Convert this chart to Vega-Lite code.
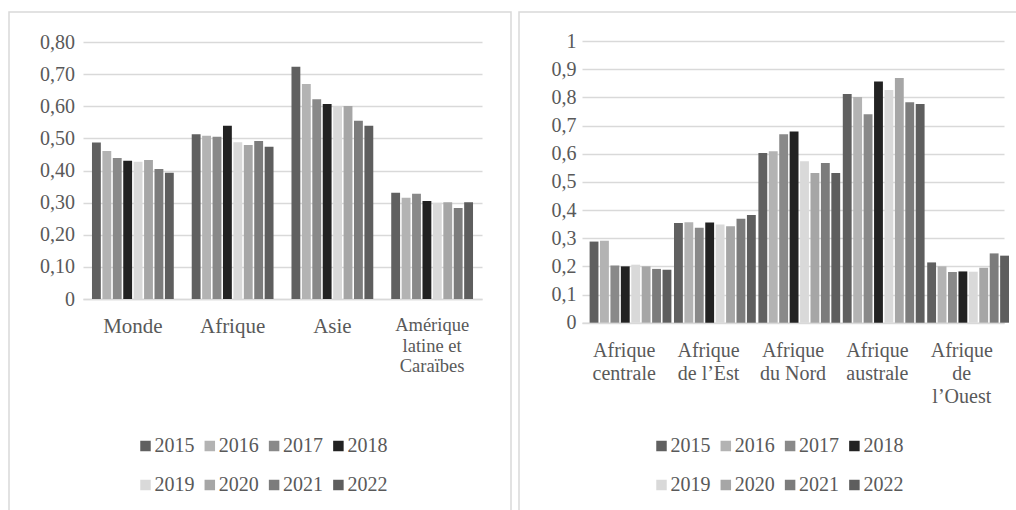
{
  "$schema": "https://vega.github.io/schema/vega-lite/v6.json",
  "padding": {"left": 8, "top": 11, "right": 0, "bottom": 0},
  "background": "white",
  "spacing": 6,
  "config": {
    "font": "'Liberation Serif', 'Times New Roman', serif",
    "view": {"stroke": "#d9d9d9", "strokeWidth": 1.5},
    "axis": {"labelFont": "'Liberation Serif', 'Times New Roman', serif", "labelColor": "#595959", "title": null, "ticks": false, "tickSize": 0},
    "legend": {"labelFont": "'Liberation Serif', 'Times New Roman', serif"}
  },
  "resolve": {"scale": {"color": "independent"}, "legend": {"color": "independent"}},
  "datasets": {
    "gauche": [
      {"region": "Monde", "year": "2015", "value": 0.487},
      {"region": "Monde", "year": "2016", "value": 0.461},
      {"region": "Monde", "year": "2017", "value": 0.439},
      {"region": "Monde", "year": "2018", "value": 0.430},
      {"region": "Monde", "year": "2019", "value": 0.427},
      {"region": "Monde", "year": "2020", "value": 0.433},
      {"region": "Monde", "year": "2021", "value": 0.405},
      {"region": "Monde", "year": "2022", "value": 0.393},
      {"region": "Afrique", "year": "2015", "value": 0.513},
      {"region": "Afrique", "year": "2016", "value": 0.508},
      {"region": "Afrique", "year": "2017", "value": 0.505},
      {"region": "Afrique", "year": "2018", "value": 0.539},
      {"region": "Afrique", "year": "2019", "value": 0.488},
      {"region": "Afrique", "year": "2020", "value": 0.479},
      {"region": "Afrique", "year": "2021", "value": 0.492},
      {"region": "Afrique", "year": "2022", "value": 0.474},
      {"region": "Asie", "year": "2015", "value": 0.723},
      {"region": "Asie", "year": "2016", "value": 0.669},
      {"region": "Asie", "year": "2017", "value": 0.622},
      {"region": "Asie", "year": "2018", "value": 0.607},
      {"region": "Asie", "year": "2019", "value": 0.601},
      {"region": "Asie", "year": "2020", "value": 0.601},
      {"region": "Asie", "year": "2021", "value": 0.555},
      {"region": "Asie", "year": "2022", "value": 0.539},
      {"region": "Amérique latine et Caraïbes", "year": "2015", "value": 0.331},
      {"region": "Amérique latine et Caraïbes", "year": "2016", "value": 0.315},
      {"region": "Amérique latine et Caraïbes", "year": "2017", "value": 0.328},
      {"region": "Amérique latine et Caraïbes", "year": "2018", "value": 0.305},
      {"region": "Amérique latine et Caraïbes", "year": "2019", "value": 0.300},
      {"region": "Amérique latine et Caraïbes", "year": "2020", "value": 0.301},
      {"region": "Amérique latine et Caraïbes", "year": "2021", "value": 0.283},
      {"region": "Amérique latine et Caraïbes", "year": "2022", "value": 0.301}
    ],
    "droite": [
      {"region": "Afrique centrale", "year": "2015", "value": 0.288},
      {"region": "Afrique centrale", "year": "2016", "value": 0.291},
      {"region": "Afrique centrale", "year": "2017", "value": 0.203},
      {"region": "Afrique centrale", "year": "2018", "value": 0.200},
      {"region": "Afrique centrale", "year": "2019", "value": 0.206},
      {"region": "Afrique centrale", "year": "2020", "value": 0.200},
      {"region": "Afrique centrale", "year": "2021", "value": 0.191},
      {"region": "Afrique centrale", "year": "2022", "value": 0.188},
      {"region": "Afrique de l’Est", "year": "2015", "value": 0.354},
      {"region": "Afrique de l’Est", "year": "2016", "value": 0.357},
      {"region": "Afrique de l’Est", "year": "2017", "value": 0.337},
      {"region": "Afrique de l’Est", "year": "2018", "value": 0.356},
      {"region": "Afrique de l’Est", "year": "2019", "value": 0.349},
      {"region": "Afrique de l’Est", "year": "2020", "value": 0.342},
      {"region": "Afrique de l’Est", "year": "2021", "value": 0.369},
      {"region": "Afrique de l’Est", "year": "2022", "value": 0.382},
      {"region": "Afrique du Nord", "year": "2015", "value": 0.602},
      {"region": "Afrique du Nord", "year": "2016", "value": 0.609},
      {"region": "Afrique du Nord", "year": "2017", "value": 0.669},
      {"region": "Afrique du Nord", "year": "2018", "value": 0.679},
      {"region": "Afrique du Nord", "year": "2019", "value": 0.573},
      {"region": "Afrique du Nord", "year": "2020", "value": 0.531},
      {"region": "Afrique du Nord", "year": "2021", "value": 0.567},
      {"region": "Afrique du Nord", "year": "2022", "value": 0.531},
      {"region": "Afrique australe", "year": "2015", "value": 0.812},
      {"region": "Afrique australe", "year": "2016", "value": 0.801},
      {"region": "Afrique australe", "year": "2017", "value": 0.740},
      {"region": "Afrique australe", "year": "2018", "value": 0.856},
      {"region": "Afrique australe", "year": "2019", "value": 0.826},
      {"region": "Afrique australe", "year": "2020", "value": 0.869},
      {"region": "Afrique australe", "year": "2021", "value": 0.783},
      {"region": "Afrique australe", "year": "2022", "value": 0.776},
      {"region": "Afrique de l’Ouest", "year": "2015", "value": 0.214},
      {"region": "Afrique de l’Ouest", "year": "2016", "value": 0.200},
      {"region": "Afrique de l’Ouest", "year": "2017", "value": 0.180},
      {"region": "Afrique de l’Ouest", "year": "2018", "value": 0.182},
      {"region": "Afrique de l’Ouest", "year": "2019", "value": 0.181},
      {"region": "Afrique de l’Ouest", "year": "2020", "value": 0.195},
      {"region": "Afrique de l’Ouest", "year": "2021", "value": 0.246},
      {"region": "Afrique de l’Ouest", "year": "2022", "value": 0.238}
    ]
  },
  "hconcat": [
    {
      "width": 502,
      "height": 499,
      "data": {"name": "gauche"},
      "mark": {"type": "bar"},
      "encoding": {
        "x": {
          "field": "region", "type": "nominal",
          "sort": ["Monde", "Afrique", "Asie", "Amérique latine et Caraïbes"],
          "scale": {"range": [74, 473], "paddingInner": 0.18, "paddingOuter": 0.09},
          "axis": {
            "orient": "bottom", "offset": -212,
            "domain": true, "domainColor": "#d9d9d9", "domainWidth": 1.5,
            "labelAngle": 0, "labelBaseline": "top", "labelAlign": "center", "labelPadding": 16.5,
            "labelFontSize": {"condition": {"test": "datum.value == 'Amérique latine et Caraïbes'", "value": 18.5}, "value": 21},
            "labelLineHeight": 20.5,
            "labelExpr": "datum.value == 'Amérique latine et Caraïbes' ? ['Amérique', 'latine et', 'Caraïbes'] : datum.value",
            "grid": false
          }
        },
        "xOffset": {
          "field": "year", "type": "nominal",
          "sort": ["2015", "2016", "2017", "2018", "2019", "2020", "2021", "2022"],
          "scale": {"paddingInner": 0.15, "paddingOuter": 0}
        },
        "y": {
          "field": "value", "type": "quantitative",
          "scale": {"domain": [0, 0.8], "range": [287, 30], "nice": false, "zero": true},
          "axis": {
            "orient": "left", "offset": -74,
            "domain": false, "grid": true, "gridColor": "#d9d9d9", "gridWidth": 1.5,
            "values": [0, 0.1, 0.2, 0.3, 0.4, 0.5, 0.6, 0.7, 0.8],
            "labelFontSize": 20, "labelPadding": 8.5, "labelBaseline": "middle",
            "labelExpr": "datum.value == 0 ? '0' : replace(format(datum.value, '.2f'), '.', ',')"
          }
        },
        "color": {
          "field": "year", "type": "nominal",
          "scale": {
            "domain": ["2015", "2016", "2017", "2018", "2019", "2020", "2021", "2022"],
            "range": ["#606060", "#b3b3b3", "#898989", "#222222", "#d9d9d9", "#a6a6a6", "#7c7c7c", "#5e5e5e"]
          },
          "legend": {
            "orient": "none", "legendX": 126.5, "legendY": 424,
            "direction": "horizontal", "columns": 4, "title": null,
            "symbolType": "square", "symbolSize": 110, "symbolStrokeWidth": 0,
            "labelFontSize": 20, "labelColor": "#595959", "labelOffset": -1,
            "columnPadding": 5.3, "rowPadding": 19, "padding": 0
          }
        }
      }
    },
    {
      "width": 500,
      "height": 499,
      "data": {"name": "droite"},
      "mark": {"type": "bar"},
      "encoding": {
        "x": {
          "field": "region", "type": "nominal",
          "sort": ["Afrique centrale", "Afrique de l’Est", "Afrique du Nord", "Afrique australe", "Afrique de l’Ouest"],
          "scale": {"range": [63, 485], "paddingInner": 0.18, "paddingOuter": 0.09},
          "axis": {
            "orient": "bottom", "offset": -188.3,
            "domain": true, "domainColor": "#d9d9d9", "domainWidth": 1.5,
            "labelAngle": 0, "labelBaseline": "top", "labelAlign": "center", "labelPadding": 18,
            "labelFontSize": 20, "labelLineHeight": 23,
            "labelExpr": "datum.value == 'Afrique centrale' ? ['Afrique', 'centrale'] : datum.value == 'Afrique de l’Est' ? ['Afrique', 'de l’Est'] : datum.value == 'Afrique du Nord' ? ['Afrique', 'du Nord'] : datum.value == 'Afrique australe' ? ['Afrique', 'australe'] : ['Afrique', 'de', 'l’Ouest']",
            "grid": false
          }
        },
        "xOffset": {
          "field": "year", "type": "nominal",
          "sort": ["2015", "2016", "2017", "2018", "2019", "2020", "2021", "2022"],
          "scale": {"paddingInner": 0.15, "paddingOuter": 0}
        },
        "y": {
          "field": "value", "type": "quantitative",
          "scale": {"domain": [0, 1], "range": [310.7, 29], "nice": false, "zero": true},
          "axis": {
            "orient": "left", "offset": -63,
            "domain": false, "grid": true, "gridColor": "#d9d9d9", "gridWidth": 1.5,
            "values": [0, 0.1, 0.2, 0.3, 0.4, 0.5, 0.6, 0.7, 0.8, 0.9, 1],
            "labelFontSize": 20, "labelPadding": 6, "labelBaseline": "middle",
            "labelExpr": "datum.value == 0 ? '0' : datum.value == 1 ? '1' : replace(format(datum.value, '.1f'), '.', ',')"
          }
        },
        "color": {
          "field": "year", "type": "nominal",
          "scale": {
            "domain": ["2015", "2016", "2017", "2018", "2019", "2020", "2021", "2022"],
            "range": ["#606060", "#b3b3b3", "#898989", "#222222", "#d9d9d9", "#a6a6a6", "#7c7c7c", "#5e5e5e"]
          },
          "legend": {
            "orient": "none", "legendX": 132.5, "legendY": 424,
            "direction": "horizontal", "columns": 4, "title": null,
            "symbolType": "square", "symbolSize": 110, "symbolStrokeWidth": 0,
            "labelFontSize": 20, "labelColor": "#595959", "labelOffset": -1,
            "columnPadding": 5.3, "rowPadding": 19, "padding": 0
          }
        }
      }
    }
  ]
}
